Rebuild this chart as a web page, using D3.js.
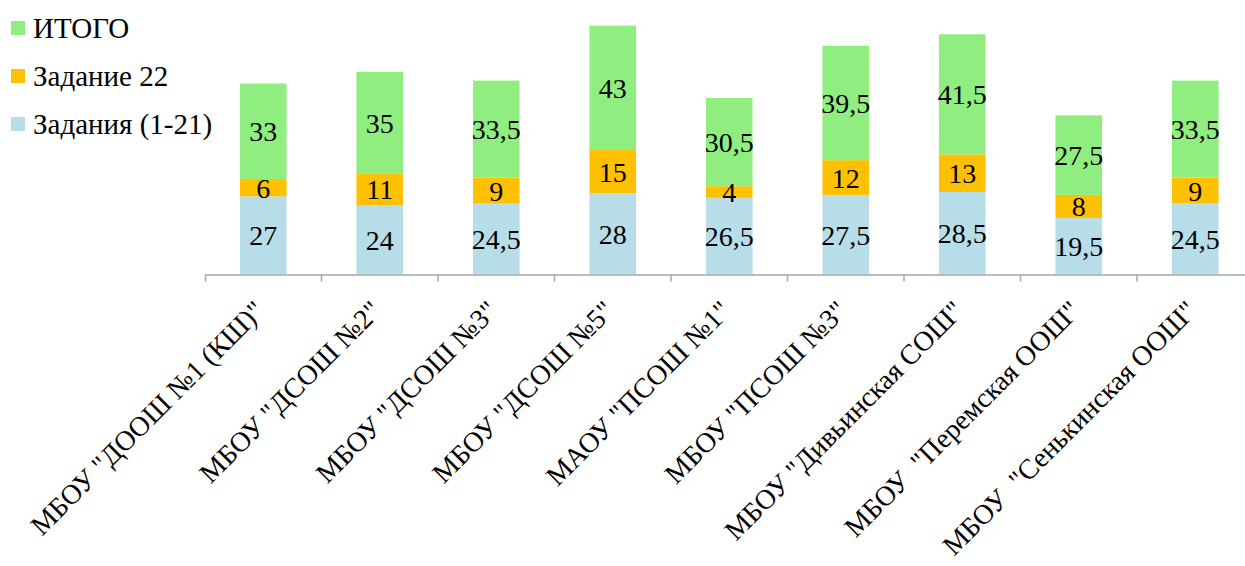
<!DOCTYPE html>
<html><head><meta charset="utf-8">
<script src="https://cdn.jsdelivr.net/npm/d3@7"></script>
<style>
html,body{margin:0;padding:0;background:#fff;}
</style></head>
<body>
<svg id="chart" width="1245" height="566" font-family="Liberation Serif"></svg>
<script>
const categories = [
  'МБОУ "ДООШ №1 (КШ)"',
  'МБОУ "ДСОШ №2"',
  'МБОУ "ДСОШ №3"',
  'МБОУ "ДСОШ №5"',
  'МАОУ "ПСОШ №1"',
  'МБОУ "ПСОШ №3"',
  'МБОУ "Дивьинская СОШ"',
  'МБОУ  "Перемская ООШ"',
  'МБОУ  "Сенькинская ООШ"'
];
const seriesNames = ["Задания (1-21)", "Задание 22", "ИТОГО"];
const tasks1to21 = [27, 24, 24.5, 28, 26.5, 27.5, 28.5, 19.5, 24.5];
const task22 = [6, 11, 9, 15, 4, 12, 13, 8, 9];
const total = [33, 35, 33.5, 43, 30.5, 39.5, 41.5, 27.5, 33.5];
const colors = ["#B7DDE8", "#FFC000", "#90EE80"];

const FONT = "Liberation Serif";
const svg = d3.select("#chart");
const x = d3.scaleBand().domain(categories).range([205, 205 + 9 * 116.5])
  .paddingInner(0.6).paddingOuter(0.3);
const y = d3.scaleLinear().domain([0, 90]).range([274.5, 14]);

const rows = categories.map((c, i) => ({cat: c, s0: tasks1to21[i], s1: task22[i], s2: total[i]}));
const stack = d3.stack().keys(["s0", "s1", "s2"]);
const layers = stack(rows);
const fmt = v => String(v).replace(".", ",");

const g = svg.append("g");
layers.forEach((layer, li) => {
  const lg = g.append("g").attr("fill", colors[li]);
  lg.selectAll("rect").data(layer).join("rect")
    .attr("x", d => x(d.data.cat))
    .attr("width", x.bandwidth())
    .attr("y", d => y(d[1]))
    .attr("height", d => y(d[0]) - y(d[1]));
});
layers.forEach((layer, li) => {
  g.append("g").selectAll("text").data(layer).join("text")
    .attr("x", d => x(d.data.cat) + x.bandwidth() / 2)
    .attr("y", d => (y(d[0]) + y(d[1])) / 2 + 10)
    .attr("text-anchor", "middle")
    .attr("font-size", 28)
    .attr("fill", "#000")
    .style("font-family", FONT)
    .text(d => fmt(d.data[layer.key]));
});

// axis
const axis = d3.axisBottom(x).tickSizeInner(0).tickSizeOuter(7).tickPadding(0);
const ax = svg.append("g").attr("transform", "translate(0,274.5)").call(axis);
ax.attr("font-family", FONT);
ax.select(".domain").attr("stroke", "#A6A6A6").attr("stroke-width", 1.5);
ax.selectAll(".tick text")
  .attr("font-size", 28)
  .attr("fill", "#000")
  .attr("text-anchor", "end")
  .attr("dy", null)
  .attr("y", null)
  .style("font-family", FONT)
  .style("white-space", "pre")
  .attr("transform", "translate(3,38) rotate(-45)");
// boundary ticks
const step = x.step();
ax.append("g").selectAll("line").data(categories.slice(1)).join("line")
  .attr("x1", d => x(d) + x.bandwidth() / 2 - step / 2)
  .attr("x2", d => x(d) + x.bandwidth() / 2 - step / 2)
  .attr("y1", 0).attr("y2", 7)
  .attr("stroke", "#A6A6A6").attr("stroke-width", 1.5);

// legend
const legendOrder = [2, 1, 0];
const leg = svg.append("g");
legendOrder.forEach((si, k) => {
  const yy = 28 + k * 48;
  leg.append("rect").attr("x", 11).attr("y", yy - 7).attr("width", 14).attr("height", 14).attr("fill", colors[si]);
  leg.append("text").attr("x", 33).attr("y", yy + 10)
    .attr("font-size", 29).attr("fill", "#000")
    .style("font-family", FONT)
    .text(seriesNames[si]);
});
</script>
</body></html>
